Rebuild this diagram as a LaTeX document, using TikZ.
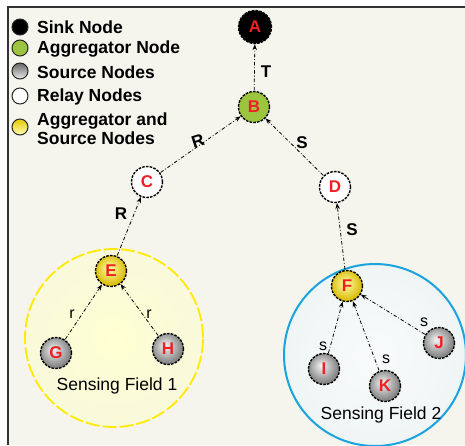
\documentclass[tikz,border=0pt]{standalone}
\usepackage{fontspec}
\setmainfont{Liberation Sans}
\usetikzlibrary{arrows.meta}

\definecolor{paper}{HTML}{F5F5EE}
\definecolor{framegray}{HTML}{333333}
\definecolor{labelred}{HTML}{EE2024}
\definecolor{aggrgreen}{HTML}{9DC43F}
\definecolor{fieldyellow}{HTML}{FFEA00}
\definecolor{fieldblue}{HTML}{1BA3DD}
\definecolor{fieldonefill}{HTML}{F9F9DC}
\definecolor{fieldtwofill}{HTML}{EFF5F5}

% node fillings: highlight slightly above left of the centre
\pgfdeclareradialshading{graynode}{\pgfpoint{-5bp}{6bp}}{color(0bp)=(white!92!gray); color(25bp)=(black!48); color(50bp)=(black!48)}
\pgfdeclareradialshading{yellownode}{\pgfpoint{-3bp}{5bp}}{color(0bp)=(yellow!35!white); color(25bp)=(yellow!70!orange!85!black!95); color(50bp)=(yellow!70!orange!85!black!95)}
\pgfdeclareradialshading{fieldone}{\pgfpoint{0bp}{0bp}}{color(0bp)=(yellow!18!white); color(25bp)=(fieldonefill); color(50bp)=(fieldonefill)}
\pgfdeclareradialshading{fieldtwo}{\pgfpoint{0bp}{0bp}}{color(0bp)=(white!60!fieldtwofill); color(25bp)=(fieldtwofill); color(50bp)=(fieldtwofill)}

\tikzset{
  netnode/.style={circle, minimum size=31pt, inner sep=0pt, draw=black,
    line width=1.4pt, dash pattern=on 2.6pt off 1.2pt,
    font=\fontsize{17}{17}\selectfont\bfseries, text=labelred},
  sink/.style={netnode, fill=black, minimum size=33pt},
  aggregator/.style={netnode, fill=aggrgreen},
  relay/.style={netnode, fill=white},
  source/.style={netnode, shading=graynode},
  aggsource/.style={netnode, shading=yellownode},
  link/.style={draw=black, line width=0.8pt,
    dash pattern=on 3.5pt off 2pt on 0.8pt off 2pt,
    -{Stealth[length=6pt,width=4.5pt]}, shorten <=0.5pt},
  biglabel/.style={font=\fontsize{17}{17}\selectfont\bfseries, inner sep=0.5pt},
  smalllabel/.style={font=\fontsize{16}{16}\selectfont, inner sep=0.5pt},
  legenddot/.style={circle, minimum size=16pt, inner sep=0pt, draw=black!85, line width=1pt},
  legendtext/.style={anchor=west, align=left, inner sep=0pt,
    font=\fontsize{17.5}{19}\selectfont\bfseries},
  fieldtext/.style={font=\fontsize{17.5}{17.5}\selectfont, inner sep=0pt},
}

\begin{document}
\begin{tikzpicture}[x=1pt, y=-1pt]
\useasboundingbox (0,0) rectangle (465,445);

% sheet and its frame
\fill[paper] (8,7) rectangle (465,445);
\draw[framegray, line width=1.4pt] (8,445) -- (8,7) -- (465,7);

% sensing fields
\shade[shading=fieldone] (114,338) circle [radius=89pt];
\draw[fieldyellow, line width=1.8pt, dash pattern=on 14pt off 3pt] (114,338) circle [radius=89pt];
\shade[shading=fieldtwo] (375,355) circle [radius=91pt];
\draw[fieldblue, line width=2pt] (375,355) circle [radius=91pt];
\node[fieldtext] (f1) at (117,386) {Sensing Field 1};
\node[fieldtext] (f2) at (381,415) {Sensing Field 2};

% legend
\node[legenddot, fill=black] (k1) at (20,27) {};
\node[legenddot, fill=aggrgreen] (k2) at (20,48) {};
\node[legenddot, top color=black!60, bottom color=black!8] (k3) at (20,71) {};
\node[legenddot, fill=white] (k4) at (20,96) {};
\node[legenddot, top color=yellow!75!orange!90!black, bottom color=yellow!30!white] (k5) at (20,127) {};
\node[legendtext] (t1) at (37,27) {Sink Node};
\node[legendtext] (t2) at (37,49) {Aggregator Node};
\node[legendtext] (t3) at (37,72) {Source Nodes};
\node[legendtext] (t4) at (37,97) {Relay Nodes};
\node[legendtext] (t5) at (37,129) {Aggregator and\\Source Nodes};

% network nodes
\node[sink] (A) at (255,27) {A};
\node[aggregator] (B) at (254,107) {B};
\node[relay] (C) at (147,182) {C};
\node[relay] (D) at (335,187) {D};
\node[aggsource] (E) at (111,271) {E};
\node[aggsource] (F) at (347,286) {F};
\node[source] (G) at (56,353) {G};
\node[source] (H) at (168,349) {H};
\node[source] (I) at (324,369) {I};
\node[source] (J) at (439,343) {J};
\node[source] (K) at (385,386) {K};

% links towards the sink
\draw[link] (B) -- (A);
\draw[link] (C) -- (B);
\draw[link] (D) -- (B);
\draw[link] (E) -- (C);
\draw[link] (F) -- (D);
\draw[link] (G) -- (E);
\draw[link] (H) -- (E);
\draw[link] (I) -- (F);
\draw[link] (K) -- (F);
\draw[link] (J) -- (F);

% link labels
\node[biglabel] (lT) at (266,72) {T};
\node[biglabel, rotate=18] (lR1) at (198,141) {R};
\node[biglabel] (lS1) at (302,143) {S};
\node[biglabel] (lR2) at (121,214) {R};
\node[biglabel] (lS2) at (352,230) {S};
\node[smalllabel] (lr1) at (72,314) {r};
\node[smalllabel] (lr2) at (149,314) {r};
\node[smalllabel, fill=fieldtwofill] (ls1) at (323,346) {s};
\node[smalllabel] (ls2) at (386,359) {s};
\node[smalllabel, fill=fieldtwofill] (ls3) at (424,322) {s};
\end{tikzpicture}
\end{document}
